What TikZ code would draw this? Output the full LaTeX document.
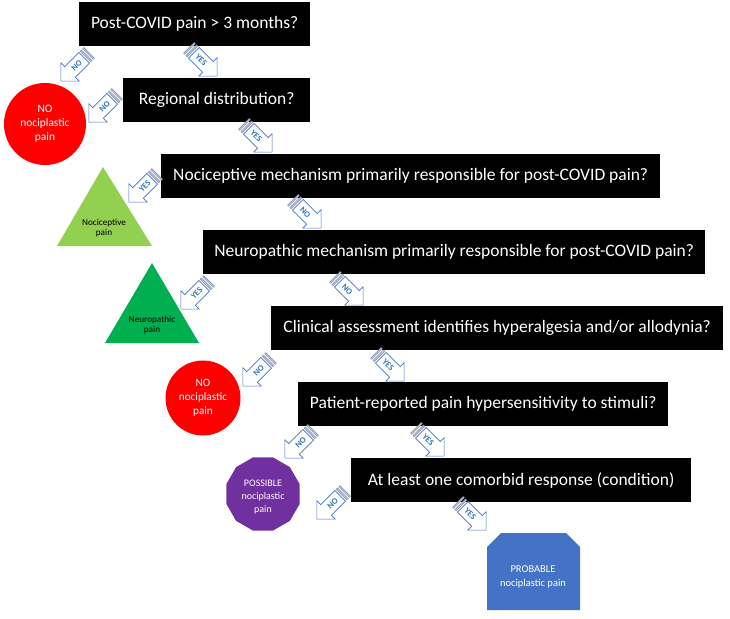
\documentclass[tikz,border=0pt]{standalone}
\usepackage{fontspec}
\setmainfont{Carlito}
\usetikzlibrary{shapes.geometric,calc}
\definecolor{redc}{HTML}{FF0000}
\definecolor{lgreen}{HTML}{92D050}
\definecolor{dgreen}{HTML}{00B050}
\definecolor{purp}{HTML}{7030A0}
\definecolor{blu}{HTML}{4472C4}
\definecolor{arrline}{HTML}{4472C4}
\definecolor{arrtxt}{HTML}{2E75B6}
\definecolor{stripec}{HTML}{7F8FB0}
\tikzset{
  qbox/.style={fill=black, text=white, font=\fontsize{17.5}{20}\selectfont, inner sep=0pt,
    anchor=north west, minimum height=44pt},
  outtxt/.style={align=center, inner sep=0pt},
  arrbody/.style={draw=arrline, line width=0.6pt, fill=white, line join=miter},
  arrstripe/.style={draw=stripec, line width=0.5pt, fill=stripec!50},
  arrlabel/.style={text=arrtxt, font=\fontsize{8.5}{9}\selectfont\bfseries, inner sep=0pt, transform shape},
}
% #1 name, #2 x, #3 y, #4 angle, #5 text rotation, #6 text
\newcommand{\sarr}[6]{%
  \begin{scope}[shift={(#2,#3)}, rotate=#4]
    \draw[arrbody] (-13,-7.5) -- (7,-7.5) -- (7,-13) -- (20,0) -- (7,13) -- (7,7.5) -- (-13,7.5) -- cycle;
    \draw[arrstripe] (-20,-7.5) rectangle (-18.3,7.5);
    \draw[arrstripe] (-16.6,-7.5) rectangle (-14.9,7.5);
    \node[arrlabel, rotate=#5] (#1) at (-2.5,0) {#6};
  \end{scope}}
\begin{document}
\begin{tikzpicture}[x=1pt,y=-1pt]
\useasboundingbox (0,0) rectangle (730,618);

% question boxes
\node[qbox, minimum width=231pt] (b1) at (79,2) {Post-COVID pain > 3 months?};
\node[qbox, minimum width=187pt] (b2) at (123,78) {Regional distribution?};
\node[qbox, minimum width=499pt] (b3) at (161,154) {Nociceptive mechanism primarily responsible for post-COVID pain?};
\node[qbox, minimum width=502pt] (b4) at (203,230) {Neuropathic mechanism primarily responsible for post-COVID pain?};
\node[qbox, minimum width=452pt] (b5) at (271,306) {Clinical assessment identifies hyperalgesia and/or allodynia?};
\node[qbox, minimum width=370pt] (b6) at (298,382) {Patient-reported pain hypersensitivity to stimuli?};
\node[qbox, minimum width=340pt] (b7) at (351,458) {At least one comorbid response (condition)};

% outcomes
\node[circle, fill=redc, minimum size=82pt, inner sep=0pt] (c1) at (45,124) {};
\node[outtxt, text=white, font=\fontsize{11.4}{14}\selectfont] (c1t) at (c1) {NO\\nociplastic\\pain};

\fill[lgreen] (103,167) -- (152,246) -- (57,246) -- cycle;
\node[outtxt, font=\fontsize{9.2}{10.5}\selectfont] (t1) at (104,228) {Nociceptive\\pain};

\fill[dgreen] (152,263) -- (199,343) -- (105,343) -- cycle;
\node[outtxt, font=\fontsize{9.2}{10.5}\selectfont] (t2) at (152,325) {Neuropathic\\pain};

\node[circle, fill=redc, minimum size=75pt, inner sep=0pt] (c2) at (203,398) {};
\node[outtxt, text=white, font=\fontsize{11.2}{14}\selectfont] (c2t) at (c2) {NO\\nociplastic\\pain};

\node[regular polygon, regular polygon sides=12, minimum size=76pt, fill=purp, inner sep=0pt] (p1) at (263,494) {};
\node[outtxt, text=white, font=\fontsize{10}{13}\selectfont] (p1t) at (263,497) {POSSIBLE\\nociplastic\\pain};

\fill[blu] (487,547) -- (501,533) -- (566,533) -- (580,547) -- (580,610) -- (487,610) -- cycle;
\node[outtxt, text=white, font=\fontsize{10.5}{14}\selectfont] (pr) at (533,577) {PROBABLE\\nociplastic pain};

% striped arrows
\sarr{a1}{75}{67}{-135}{180}{NO}
\sarr{a2}{203}{62}{-45}{0}{YES}
\sarr{a3}{103}{108}{-135}{180}{NO}
\sarr{a4}{258}{138}{-45}{0}{YES}
\sarr{a5}{143}{188}{-135}{180}{YES}
\sarr{a6}{307}{214}{-45}{0}{NO}
\sarr{a7}{195}{295}{-135}{180}{YES}
\sarr{a8}{349}{291}{-45}{0}{NO}
\sarr{a9}{257}{372}{-135}{180}{NO}
\sarr{a10}{390}{367}{-45}{0}{YES}
\sarr{a11}{299}{444}{-135}{180}{NO}
\sarr{a12}{430}{442}{-45}{0}{YES}
\sarr{a13}{331}{505}{-135}{180}{NO}
\sarr{a14}{472}{516}{-45}{0}{YES}
\end{tikzpicture}
\end{document}
